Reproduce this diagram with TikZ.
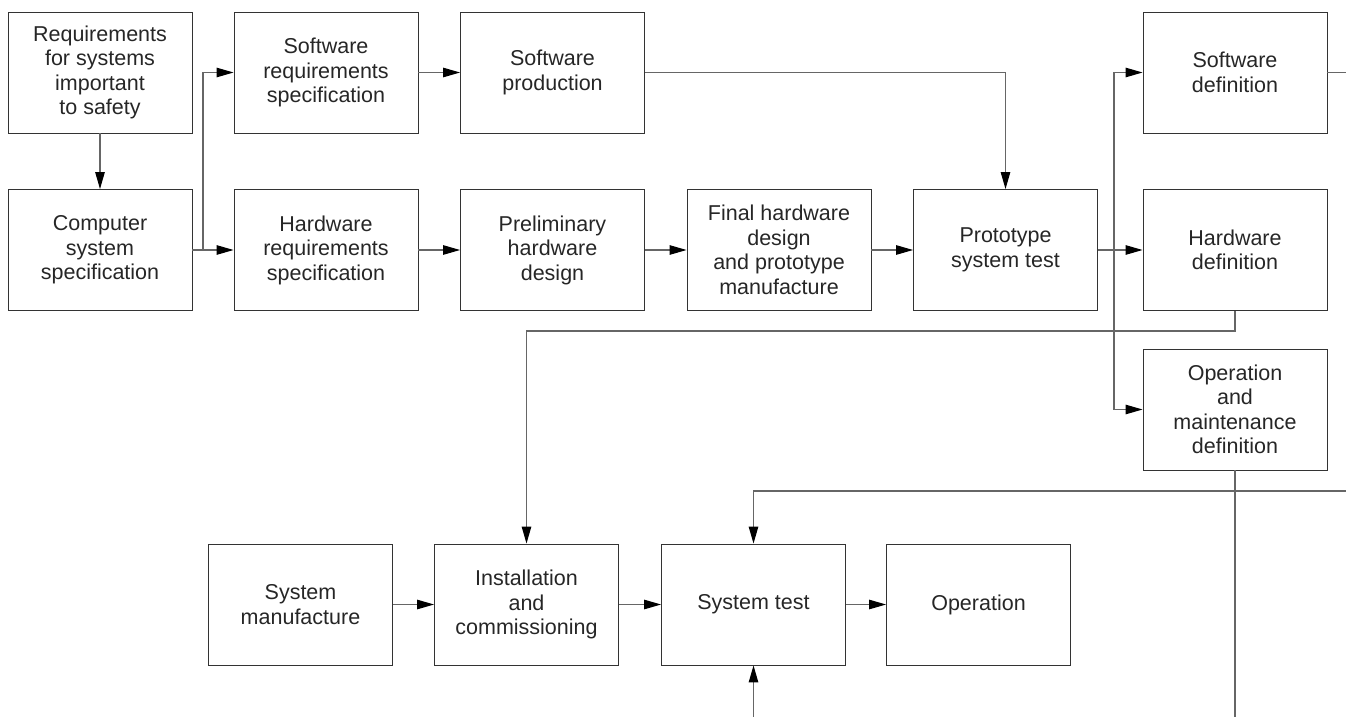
\documentclass[tikz,border=0pt]{standalone}
\usepackage{fontspec}
\setmainfont{Liberation Sans}
\usetikzlibrary{arrows.meta}
\begin{document}
\begin{tikzpicture}[x=1pt,y=-1pt,
  box/.style={draw=black!80, line width=0.9pt, minimum width=184pt, minimum height=121pt,
    align=center, inner sep=2pt, font=\fontsize{21.5}{24.5}\selectfont, text=black!85},
  conn/.style={draw=black!60, line width=1.1pt},
  arr/.style={conn, -{Triangle[length=17pt,width=9.5pt,color=black]}}]
\useasboundingbox (0,0) rectangle (1346,717);
% row 1
\node[box] (req) at (100,72.5) {Requirements\\for systems\\important\\to safety};
\node[box] (swreq) at (326,72.5) {Software\\requirements\\specification};
\node[box] (swprod) at (552.5,72.5) {Software\\production};
\node[box] (swdef) at (1235,72.5) {Software\\definition};
% row 2
\node[box] (comp) at (100,250) {Computer\\system\\specification};
\node[box] (hwreq) at (326,250) {Hardware\\requirements\\specification};
\node[box] (prelim) at (552.5,250) {Preliminary\\hardware\\design};
\node[box] (final) at (779,250) {Final hardware\\design\\and prototype\\manufacture};
\node[box] (proto) at (1005.5,250) {Prototype\\system test};
\node[box] (hwdef) at (1235,250) {Hardware\\definition};
% row 3
\node[box] (omd) at (1235,409.5) {Operation\\and\\maintenance\\definition};
% bottom row
\node[box] (sysman) at (300.5,604.5) {System\\manufacture};
\node[box] (inst) at (526.5,604.5) {Installation\\and\\commissioning};
\node[box] (syst) at (753.5,604.5) {System test};
\node[box] (oper) at (978.5,604.5) {Operation};
% coordinates
\coordinate (split) at (203,250);
\coordinate (branch) at (1114,250);
\coordinate (hwbend) at (1235,331);
\coordinate (swout) at (1346,72.5);
\coordinate (omdout) at (1235,717);
\coordinate (topin) at (1346,491);
\coordinate (botin) at (753.5,717);
% connectors
\draw[arr] (req) -- (comp);
\draw[arr] (comp) -- (hwreq);
\draw[arr] (split) |- (swreq.west);
\draw[arr] (swreq) -- (swprod);
\draw[arr] (swprod.east) -| (proto.north);
\draw[arr] (hwreq) -- (prelim);
\draw[arr] (prelim) -- (final);
\draw[arr] (final) -- (proto);
\draw[arr] (proto) -- (hwdef);
\draw[arr] (branch) |- (swdef.west);
\draw[arr] (branch) |- (omd.west);
\draw[arr] (hwdef.south) -- (hwbend) -| (inst.north);
\draw[conn] (swdef.east) -- (swout);
\draw[conn] (omd.south) -- (omdout);
\draw[arr] (topin) -| (syst.north);
\draw[arr] (botin) -- (syst.south);
\draw[arr] (sysman) -- (inst);
\draw[arr] (inst) -- (syst);
\draw[arr] (syst) -- (oper);
\end{tikzpicture}
\end{document}
